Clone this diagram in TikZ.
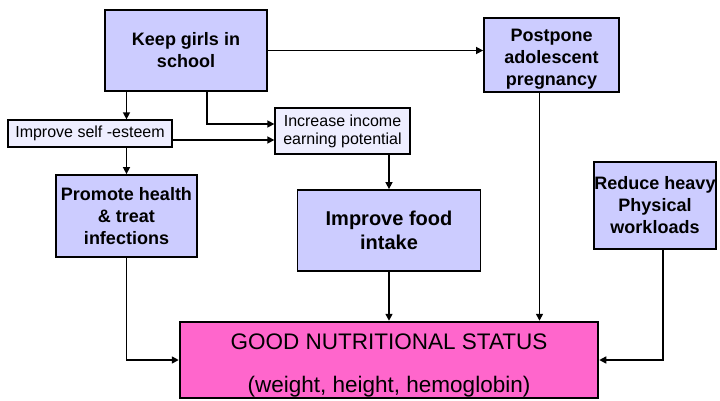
\documentclass[tikz,border=0pt]{standalone}
\usepackage{fontspec}
\setmainfont{Liberation Sans}
\usetikzlibrary{arrows.meta}
\definecolor{boxblue}{HTML}{CCCCFF}
\definecolor{boxpale}{HTML}{EEEEFF}
\definecolor{goodpink}{HTML}{FF66CC}
\begin{document}
\begin{tikzpicture}
  [x=1pt,y=-1pt,>={Triangle[length=7pt,width=7pt]},
   every node/.style={draw=black,line width=1.8pt,fill=boxblue,align=center,inner xsep=0pt,
     font=\bfseries\fontsize{18}{22}\selectfont},
   small/.style={fill=boxpale,line width=1.3pt,font=\fontsize{16}{18}\selectfont},
   link/.style={->,line width=1.5pt}]
  \useasboundingbox (0,0) rectangle (720,400);

  \node[minimum width=162pt,minimum height=81pt] (keep) at (186,50.5) {Keep girls in\\school};
  \node[minimum width=135pt,minimum height=74pt] (post) at (551.5,55) {\rule{0pt}{20pt}Postpone\\adolescent\\pregnancy};
  \node[small,minimum width=164pt,minimum height=27pt] (self) at (90,133.5) {Improve self -esteem};
  \node[small,minimum width=135pt,minimum height=46pt] (income) at (342.5,131) {Increase income\\earning potential};
  \node[minimum width=141pt,minimum height=82pt] (health) at (126.5,216) {Promote health\\\& treat\\infections};
  \node[minimum width=183pt,minimum height=81pt,font=\bfseries\fontsize{20}{24}\selectfont] (food) at (389,230.5) {Improve food\\intake};
  \node[minimum width=122pt,minimum height=87pt] (heavy) at (655,205.5) {Reduce heavy\\Physical\\workloads};
  \node[fill=goodpink,line width=2.5pt,minimum width=418pt,minimum height=76pt,inner ysep=0pt,
    font=\fontsize{22.5}{43}\selectfont] (good) at (389,360) {\rule{0pt}{27pt}GOOD NUTRITIONAL STATUS\\(weight, height, hemoglobin)};

  \coordinate (k1) at ([xshift=21pt]keep.south);
  \coordinate (i1) at ([yshift=7pt]income.west);
  \coordinate (i2) at ([yshift=-9pt]income.west);
  \coordinate (p1) at ([xshift=-12pt]post.south);
  \coordinate (h1) at ([xshift=8pt]heavy.south);

  \foreach \from/\to in {keep.east/keep.east -| post.west,
      keep.south -| health.north/self.north -| health.north,
      self.south -| health.north/health.north,
      i2 -| self.east/i2,
      income.south -| food.north/food.north,
      food.south/good.north -| food.south,
      p1/p1 |- good.north}
    \draw[link] (\from) -- (\to);

  \foreach \from/\to in {k1/i1,health.south/good.west,h1/good.east}
    \draw[link] (\from) |- (\to);

\end{tikzpicture}
\end{document}
